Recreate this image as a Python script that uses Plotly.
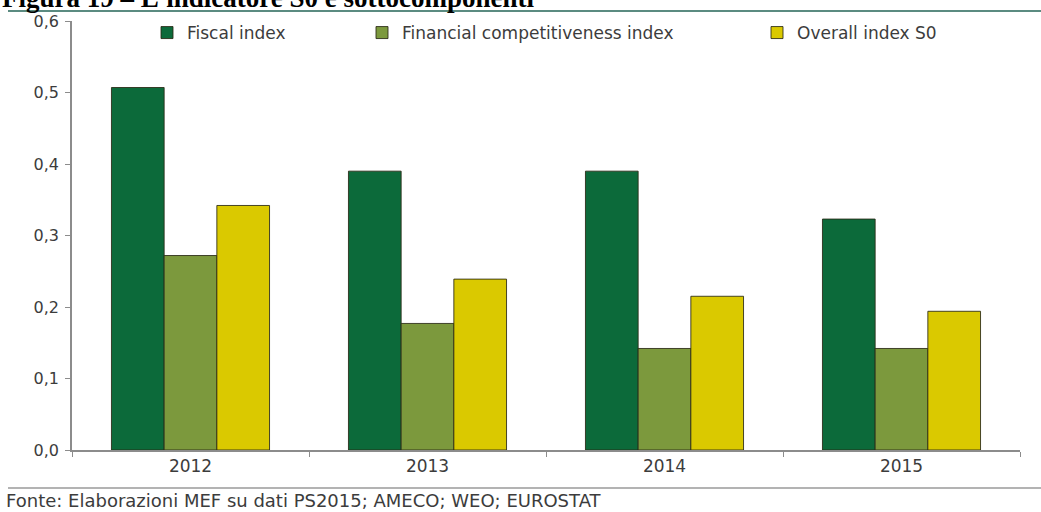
import plotly.graph_objects as go

# Data
years = ["2012", "2013", "2014", "2015"]
fiscal_index = [0.507, 0.390, 0.390, 0.323]
financial_competitiveness_index = [0.272, 0.177, 0.142, 0.142]
overall_index_s0 = [0.342, 0.239, 0.215, 0.194]
y_ticks = [0.0, 0.1, 0.2, 0.3, 0.4, 0.5, 0.6]

W, H = 1041, 512
ML, MR, MT, MB = 72, 21, 21, 62
PW, PH = W - ML - MR, H - MT - MB


def px_x(p):
    """pixel column -> paper x"""
    return (p - ML) / PW


def px_y(p):
    """pixel row -> paper y"""
    return (H - MB - p) / PH


FONT = "DejaVu Sans"
TXT = "#3c3c3c"
edge = dict(color="rgba(40,40,20,0.85)", width=1)

fig = go.Figure()
fig.add_trace(go.Bar(x=years, y=fiscal_index, name="Fiscal index",
                     marker=dict(color="#0c6a3a", line=edge), legend="legend"))
fig.add_trace(go.Bar(x=years, y=financial_competitiveness_index,
                     name="Financial competitiveness index",
                     marker=dict(color="#7c993d", line=edge), legend="legend2"))
fig.add_trace(go.Bar(x=years, y=overall_index_s0, name="Overall index S0",
                     marker=dict(color="#dac900", line=edge), legend="legend3"))

legend_common = dict(orientation="h", yanchor="middle", y=px_y(33),
                     xanchor="left", bgcolor="rgba(0,0,0,0)",
                     font=dict(family=FONT, size=17, color=TXT),
                     itemwidth=30)

fig.update_layout(
    width=W, height=H,
    margin=dict(l=ML, r=MR, t=MT, b=MB),
    paper_bgcolor="white", plot_bgcolor="white",
    barmode="group", bargap=0.333, bargroupgap=0,
    separators=", ",
    showlegend=True,
    font=dict(family=FONT, size=17, color=TXT),
    legend=dict(legend_common, x=px_x(147)),
    legend2=dict(legend_common, x=px_x(362)),
    legend3=dict(legend_common, x=px_x(757)),
    xaxis=dict(type="category", showline=True, linecolor="#8c8c8c", linewidth=1.5,
               ticks="outside", tickson="boundaries", ticklen=5, tickcolor="#8c8c8c",
               showgrid=False, tickfont=dict(family=FONT, size=17, color=TXT)),
    yaxis=dict(range=[0, 0.6], tickvals=y_ticks, tickformat=".1f",
               showline=True, linecolor="#8c8c8c", linewidth=1.5,
               ticks="outside", ticklen=5, tickcolor="#8c8c8c",
               showgrid=False, zeroline=False, ticklabelstandoff=3,
               tickfont=dict(family=FONT, size=16, color=TXT)),
)

# Heading, rules and source note
fig.add_annotation(text="<b>Figura 19 – L'indicatore S0 e sottocomponenti</b>",
                   xref="paper", yref="paper", x=px_x(0), y=px_y(15),
                   xanchor="left", yanchor="bottom", showarrow=False,
                   font=dict(family="Liberation Serif", size=27, color="black"))
fig.add_shape(type="line", xref="paper", yref="paper",
              x0=px_x(8), x1=px_x(W), y0=px_y(11), y1=px_y(11),
              line=dict(color="#5b8b81", width=2))
fig.add_shape(type="line", xref="paper", yref="paper",
              x0=px_x(8), x1=px_x(W), y0=px_y(488), y1=px_y(488),
              line=dict(color="#9a9a9a", width=1.5))
fig.add_annotation(text="Fonte: Elaborazioni MEF su dati PS2015; AMECO; WEO; EUROSTAT",
                   xref="paper", yref="paper", x=px_x(4), y=px_y(500),
                   xanchor="left", yanchor="middle", showarrow=False,
                   font=dict(family=FONT, size=18, color=TXT))

fig.write_html("out.html")
